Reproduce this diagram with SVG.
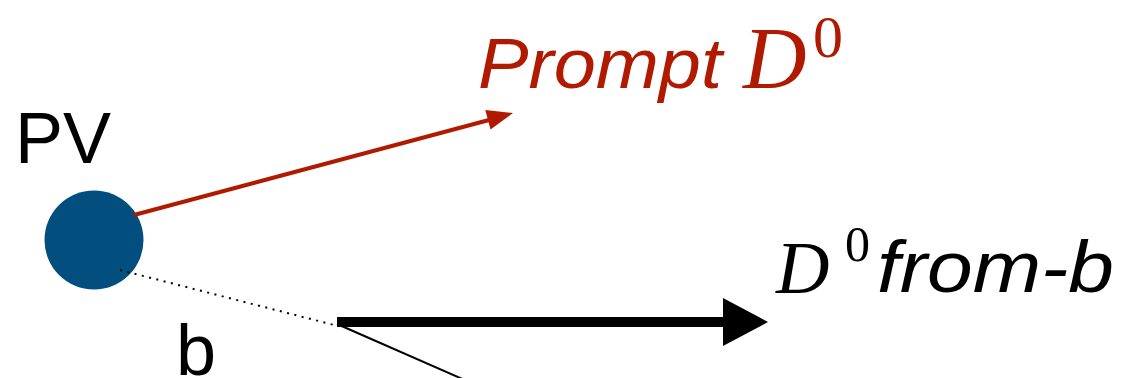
<svg xmlns="http://www.w3.org/2000/svg" width="1133" height="378" viewBox="0 0 1133 378">
  <style>
    .sans { font-family: "Liberation Sans", Arial, sans-serif; }
    .serif { font-family: "Liberation Serif", "Times New Roman", serif; }
    .red { fill: #B01A00; }
    .blk { fill: #000000; }
  </style>
  <rect width="1133" height="378" fill="#ffffff"/>
  <g id="pv">
    <circle cx="94" cy="240" r="49.5" fill="#024E7E"/>
    <text class="sans blk" x="15" y="163" font-size="72">PV</text>
  </g>
  <g id="b-label">
    <text class="sans blk" x="176" y="375" font-size="72">b</text>
  </g>
  <g id="prompt-d0">
    <text class="sans red" x="478" y="88" font-size="71" font-style="italic" textLength="244" lengthAdjust="spacingAndGlyphs">Prompt</text>
    <text class="serif red" x="743" y="88" font-size="88" font-style="italic">D</text>
    <text class="serif red" x="813" y="57" font-size="60">0</text>
  </g>
  <g id="d0-from-b">
    <text class="serif blk" x="776" y="293" font-size="74" font-style="italic">D</text>
    <text class="serif blk" x="845" y="261" font-size="50">0</text>
    <text class="sans blk" x="877" y="292" font-size="72" font-style="italic" textLength="237" lengthAdjust="spacingAndGlyphs">from-b</text>
  </g>
  <g id="connectors">
    <line x1="134" y1="215" x2="489" y2="120" stroke="#B01A00" stroke-width="4"/>
    <polygon points="513,113 490.5,129.4 485.3,110.1" fill="#B01A00"/>
    <line x1="120" y1="270" x2="334" y2="325" stroke="#000" stroke-width="2" stroke-dasharray="2 5.5"/>
    <line x1="337" y1="322" x2="725" y2="322" stroke="#000" stroke-width="10"/>
    <polygon points="723,298 768,322 723,346" fill="#000"/>
    <line x1="337" y1="324" x2="467" y2="381" stroke="#000" stroke-width="2"/>
  </g>
</svg>
